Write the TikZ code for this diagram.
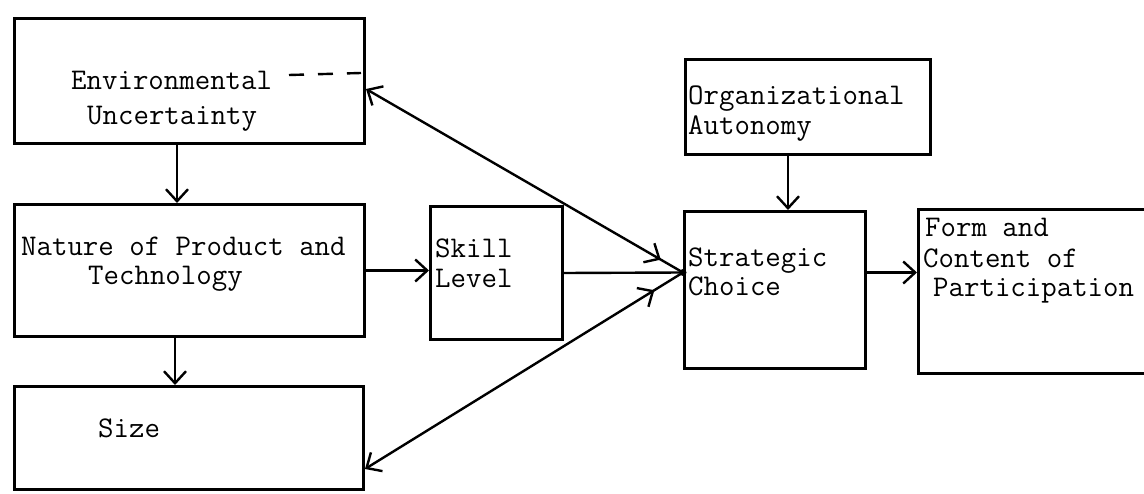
\documentclass[tikz,border=0pt]{standalone}
\usepackage{fontspec}
\usetikzlibrary{arrows.meta,decorations.markings}

\begin{document}
\begin{tikzpicture}[x=1pt,y=-1pt,
  box/.style={draw,line width=3pt,anchor=north west,inner sep=0pt},
  lbl/.style={anchor=base west,inner sep=0pt,font=\ttfamily\fontsize{30}{34}\selectfont},
  conn/.style={line width=2.4pt},
  barb/.style={-{Straight Barb[length=12pt,width=22pt]}},
  midbarb/.style={postaction={decorate},decoration={markings,
      mark=at position #1 with {\arrow{Straight Barb[length=12pt,width=22pt]}}}}]

\useasboundingbox (0,0) rectangle (1144,494);
\clip (0,0) rectangle (1144,494);

% boxes
\node[box,minimum width=350pt,minimum height=125pt] (eu)    at (13,17)  {};
\node[box,minimum width=350pt,minimum height=132pt] (npt)   at (13,203) {};
\node[box,minimum width=349pt,minimum height=103pt] (size)  at (13,385) {};
\node[box,minimum width=132pt,minimum height=133pt] (skill) at (429,205) {};
\node[box,minimum width=245pt,minimum height=95pt]  (orga)  at (684,58)  {};
\node[box,minimum width=181pt,minimum height=157pt] (strat) at (683,210) {};
\node[box,minimum width=260pt,minimum height=164pt] (form)  at (917,208) {};

% texts
\node[lbl] (eu1) at (71,90)   {Environmental};
\node[lbl] (eu2) at (87,125)  {Uncertainty};
\node[lbl] (np1) at (21,256)  {Nature of Product and};
\node[lbl] (np2) at (88,285)  {Technology};
\node[lbl] (sz1) at (98,437)  {Size};
\node[lbl] (sk1) at (435,258) {Skill};
\node[lbl] (sk2) at (435,288) {Level};
\node[lbl] (or1) at (688,105) {Organizational};
\node[lbl] (or2) at (688,135) {Autonomy};
\node[lbl] (st1) at (688,267) {Strategic};
\node[lbl] (st2) at (688,296) {Choice};
\node[lbl] (fo1) at (925,237) {Form and};
\node[lbl] (fo2) at (923,268) {Content of};
\node[lbl] (fo3) at (933,297) {Participation};

% helper points
\coordinate (xa) at (177,0);
\coordinate (xb) at (175,0);
\coordinate (xc) at (788,0);
\coordinate (sc) at ([yshift=17.5pt]strat.west);
\coordinate (dashA) at (289,75);
\coordinate (dashB) at (361,73);

% connectors
\draw[conn,barb] (eu.south -| xa) -- (npt.north -| xa);
\draw[conn,barb] (npt.south -| xb) -- (size.north -| xb);
\draw[conn,barb] (npt.east) -- (npt.east -| skill.west);
\draw[conn] (skill.east) -- (sc);
\draw[conn,barb] (orga.south -| xc) -- (strat.north -| xc);
\draw[conn,barb] (sc -| strat.east) -- (sc -| form.west);
\draw[conn,{Straight Barb[length=12pt,width=22pt]}-,midbarb=0.93]
  ([yshift=-8pt]eu.east) -- (sc);
\draw[conn,{Straight Barb[length=12pt,width=22pt]}-,midbarb=0.91]
  ([yshift=-31pt]size.east) -- (sc);
\fill (sc) circle (3.5pt);
\draw[line width=2.4pt,dash pattern=on 15pt off 14pt] (dashA) -- (dashB);

\end{tikzpicture}
\end{document}
